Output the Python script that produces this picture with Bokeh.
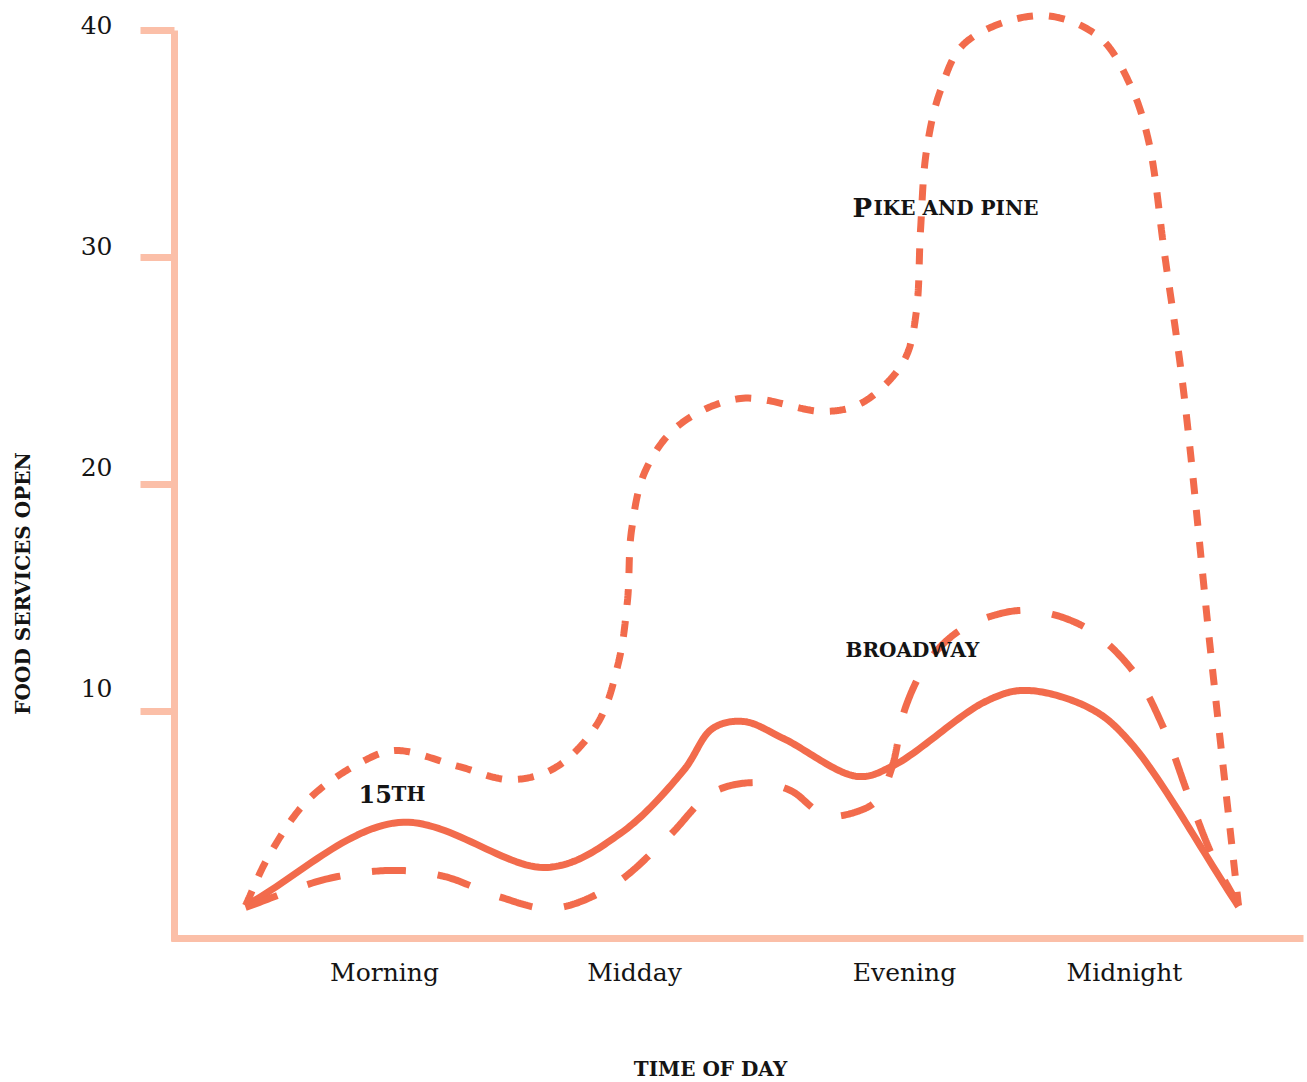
import numpy as np
from bokeh.plotting import figure
from bokeh.models import Range1d, LinearAxis, FixedTicker, Label
from bokeh.core.properties import value
from bokeh.embed import file_html
from bokeh.resources import INLINE

# ---------------- data ----------------
time_ticks = [21, 46, 73, 95]
time_labels = ["Morning", "Midday", "Evening", "Midnight"]
count_ticks = [10, 20, 30, 40]

fifteenth_x = [7.1, 22.4, 37.3, 44.6, 50.9, 53.8, 56.9, 60.9, 68.3, 71.9, 81.1, 85.1, 91.6, 95.6, 106.4]
fifteenth_y = [1.45, 5.11, 3.13, 4.63, 7.40, 9.25, 9.56, 8.81, 7.14, 7.62, 10.44, 10.93, 10.13, 8.63, 1.41]

broadway_x = [7.1, 15.4, 22.1, 27.0, 32.4, 37.8, 43.8, 49.4, 53.8, 58.1, 61.6, 65.1, 68.8, 70.4,
              71.8, 73.1, 75.3, 78.1, 81.6, 85.6, 91.1, 95.8, 98.8, 101.4, 103.9, 106.4]
broadway_y = [1.37, 2.64, 3.00, 2.73, 1.85, 1.32, 2.33, 4.49, 6.43, 6.87, 6.52, 5.42, 5.68, 6.17,
              7.62, 10.18, 12.16, 13.44, 14.19, 14.45, 13.70, 11.81, 9.38, 6.30, 3.52, 1.45]

pike_x = [7.1, 9.4, 13.3, 18.6, 22.1, 28.4, 33.6, 38.1, 42.3, 44.4, 45.3, 45.7, 47.1, 50.4, 56.6,
          64.8, 68.2, 71.1, 73.2, 74.2, 74.6, 75.2, 76.6, 79.1, 86.6, 92.4, 95.6, 97.4, 99.0,
          100.9, 103.6, 106.4]
pike_y = [1.45, 3.61, 6.08, 7.75, 8.28, 7.58, 7.00, 7.53, 9.47, 12.16, 14.89, 17.97, 20.62, 22.60,
          23.79, 23.22, 23.48, 24.41, 25.68, 27.67, 31.19, 34.71, 37.36, 39.47, 40.66, 39.74,
          37.58, 35.15, 30.18, 24.14, 12.69, 1.45]

# ---------------- styling ----------------
LINE = "#F26B4C"
AXIS = "#FBBFA8"
TXT = "#141414"
FONT = "DejaVu Serif"
SX, SY = 10.0, 22.7  # approx. screen pixels per data unit (for smoothing only)


def smooth(xs, ys, n=30, alpha=0.5):
    """Centripetal Catmull-Rom curve through the given points (rendering only)."""
    P = np.column_stack([np.asarray(xs, float) * SX, np.asarray(ys, float) * SY])
    P = np.vstack([2 * P[0] - P[1], P, 2 * P[-1] - P[-2]])
    out = []

    def tj(ti, a, b):
        return ti + max(float(np.hypot(*(b - a))), 1e-6) ** alpha

    for i in range(1, len(P) - 2):
        p0, p1, p2, p3 = P[i - 1], P[i], P[i + 1], P[i + 2]
        t0 = 0.0
        t1 = tj(t0, p0, p1)
        t2 = tj(t1, p1, p2)
        t3 = tj(t2, p2, p3)
        t = np.linspace(t1, t2, n, endpoint=False)[:, None]
        A1 = (t1 - t) / (t1 - t0) * p0 + (t - t0) / (t1 - t0) * p1
        A2 = (t2 - t) / (t2 - t1) * p1 + (t - t1) / (t2 - t1) * p2
        A3 = (t3 - t) / (t3 - t2) * p2 + (t - t2) / (t3 - t2) * p3
        B1 = (t2 - t) / (t2 - t0) * A1 + (t - t0) / (t2 - t0) * A2
        B2 = (t3 - t) / (t3 - t1) * A2 + (t - t1) / (t3 - t1) * A3
        C = (t2 - t) / (t2 - t1) * B1 + (t - t1) / (t2 - t1) * B2
        out.append(C)
    out.append(P[-2][None, :])
    C = np.vstack(out)
    return C[:, 0] / SX, C[:, 1] / SY


# frame covers the whole canvas; axes are pinned with fixed_location
p = figure(width=1307, height=1082,
           x_range=Range1d(-17.4, 113.3), y_range=Range1d(-6.344, 41.322),
           output_backend="svg", toolbar_location=None,
           min_border_left=0, min_border_right=0, min_border_top=0, min_border_bottom=0)
p.extra_y_ranges = {"lab": Range1d(-7.828, 41.131)}
p.grid.visible = False
p.outline_line_color = None
p.background_fill_color = "white"
p.border_fill_color = "white"

# y axis: line + tick marks
yax = p.yaxis[0]
yax.fixed_location = 0
yax.bounds = (-0.15, 40)
yax.ticker = FixedTicker(ticks=count_ticks)
yax.major_label_overrides = {t: "" for t in count_ticks}
yax.major_label_standoff = 0
yax.axis_line_color = AXIS
yax.axis_line_width = 7
yax.major_tick_line_color = AXIS
yax.major_tick_line_width = 7
yax.major_tick_out = 34
yax.major_tick_in = 0
yax.minor_tick_line_color = None

# y axis tick labels (slightly shifted scale, as in the reference)
lab = LinearAxis(y_range_name="lab", ticker=FixedTicker(ticks=count_ticks), fixed_location=-3.4,
                 axis_line_color=None, major_tick_line_color=None,
                 major_tick_in=0, major_tick_out=0, minor_tick_line_color=None,
                 major_label_standoff=28, major_label_text_font=FONT,
                 major_label_text_font_size="25px", major_label_text_color=TXT)
p.add_layout(lab, "left")

# x axis
xax = p.xaxis[0]
xax.fixed_location = 0
xax.bounds = (-0.35, 112.9)
xax.ticker = FixedTicker(ticks=time_ticks)
xax.major_label_overrides = dict(zip(time_ticks, time_labels))
xax.axis_line_color = AXIS
xax.axis_line_width = 7
xax.major_tick_line_color = None
xax.major_tick_out = 0
xax.major_tick_in = 0
xax.minor_tick_line_color = None
xax.major_label_standoff = 20
xax.major_label_text_font = FONT
xax.major_label_text_font_size = "25px"
xax.major_label_text_color = TXT

# axis titles
p.add_layout(Label(x=53.6, y=-5.77, text="TIME OF DAY", text_font=FONT,
                   text_font_style="bold", text_font_size="20px", text_color=TXT,
                   text_align="center", text_baseline="alphabetic"))
p.add_layout(Label(x=-15.2, y=15.64, angle=np.pi / 2, text="FOOD SERVICES OPEN",
                   text_font=FONT, text_font_style="bold", text_font_size="20px",
                   text_color=TXT, text_align="center", text_baseline="alphabetic"))

# series
x1, y1 = smooth(fifteenth_x, fifteenth_y)
p.line(x1, y1, line_color=LINE, line_width=7, line_join="round")
x2, y2 = smooth(broadway_x, broadway_y)
p.line(x2, y2, line_color=LINE, line_width=7, line_dash="34 32")
x3, y3 = smooth(pike_x, pike_y)
p.line(x3, y3, line_color=LINE, line_width=7, line_dash="16 16")


# series labels (small-caps look)
def txt(x, y, s, size, xoff=0):
    p.text(x=[x], y=[y], text=[s], x_offset=xoff, text_font=value(FONT),
           text_font_style="bold", text_font_size=size, text_color=TXT,
           text_baseline="alphabetic", text_align="left")


txt(67.8, 32.17, "P", "26px")
txt(67.8, 32.17, "IKE AND PINE", "20px", 21)
txt(67.1, 12.70, "BROADWAY", "20px")
txt(18.4, 6.37, "15", "24px")
txt(18.4, 6.37, "TH", "20px", 33)

open("out.html", "w").write(file_html(p, INLINE))
